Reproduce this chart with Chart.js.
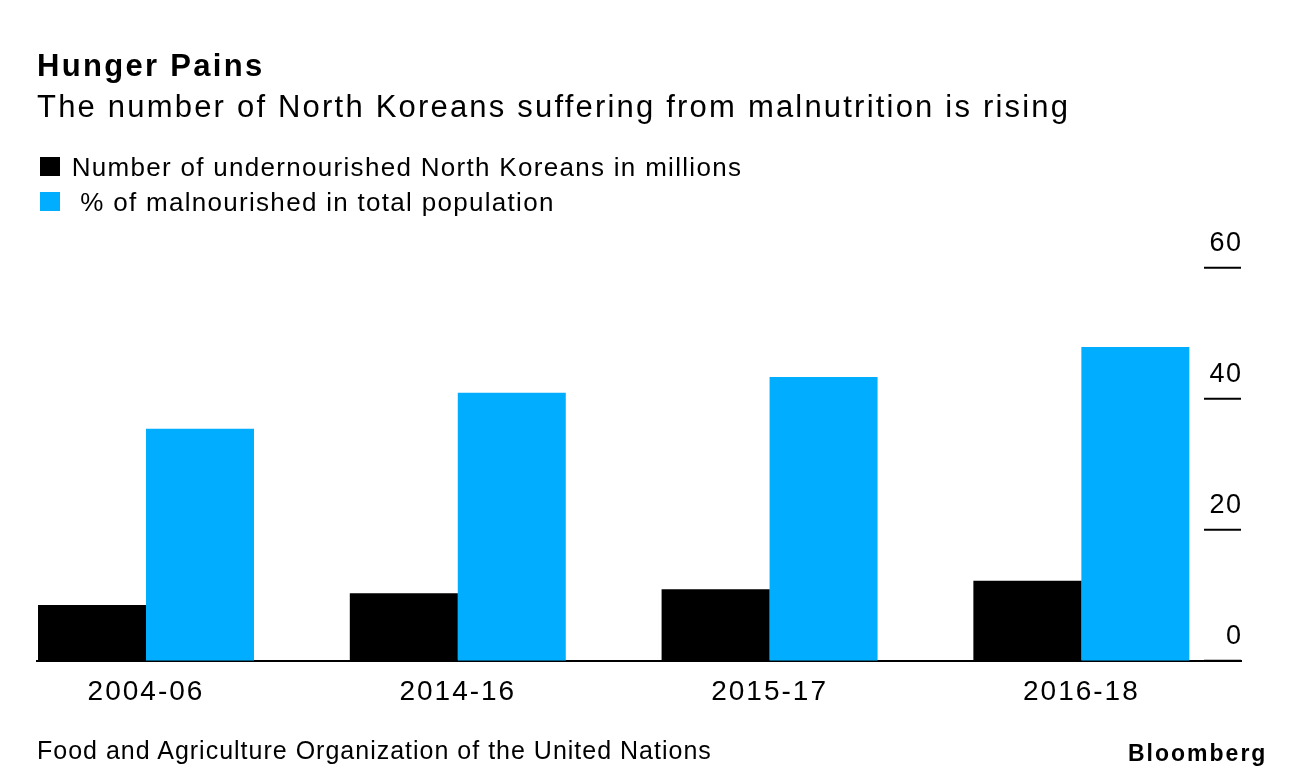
<!DOCTYPE html>
<html>
<head>
  <title>Hunger Pains</title>
  <script src="https://cdn.jsdelivr.net/npm/chart.js"></script>
  <meta name="viewport" content="width=device-width, initial-scale=1">
  <style>
    body { margin: 0; background: #fff; color: #000; font-family: "Liberation Sans", Arial, sans-serif; }
    #wrap { position: relative; width: 1296px; height: 780px; overflow: hidden; }
    canvas { position: absolute; left: 0; top: 0; }
    .txt { position: absolute; line-height: 1; white-space: pre; }
    #title { left: 37px; top: 49.5px; font-size: 31px; font-weight: bold; letter-spacing: 2.3px; }
    #subtitle { left: 37px; top: 91px; font-size: 31px; letter-spacing: 2.2px; }
    .key { position: absolute; left: 40px; width: 20px; height: 19px; }
    .keytxt { left: 71.7px; font-size: 26px; letter-spacing: 1.3px; }
    #source { left: 37px; top: 738px; font-size: 25px; letter-spacing: 1px; }
    #brand { left: 1128px; top: 742px; font-size: 23px; font-weight: bold; letter-spacing: 2px; }
  </style>
</head>
<body>
  <div id="wrap">
    <canvas id="hungerChart" width="1296" height="780"></canvas>
    <div class="txt" id="title">Hunger Pains</div>
    <div class="txt" id="subtitle">The number of North Koreans suffering from malnutrition is rising</div>
    <div id="legend"></div>
    <div class="txt" id="source">Food and Agriculture Organization of the United Nations</div>
    <div class="txt" id="brand">Bloomberg</div>
  </div>

  <script>
    const categories = ['2004-06', '2014-16', '2015-17', '2016-18'];
    const undernourished = [8.5, 10.3, 10.9, 12.2];   // millions
    const malnourishedPct = [35.4, 40.9, 43.3, 47.9]; // % of population
    const seriesNames = ['Number of undernourished North Koreans in millions', ' % of malnourished in total population'];
    const seriesColors = ['#000000', '#00adfe'];
    const yTicks = [0, 20, 40, 60];

    // bars sit on a linear x axis so the first pair can hug the left edge
    const toPoints = vals => vals.map((v, i) => ({ x: i, y: v }));

    // short tick marks + labels on the right, drawn from the y scale
    const rightAxis = {
      id: 'rightAxis',
      beforeDraw(chart) {
        chart.ctx.letterSpacing = '2px';
      },
      afterDraw(chart) {
        const { ctx, chartArea, scales: { y } } = chart;
        ctx.save();
        ctx.strokeStyle = '#000';
        ctx.fillStyle = '#000';
        ctx.lineWidth = 2;
        ctx.font = '27px "Liberation Sans", Arial, sans-serif';
        ctx.letterSpacing = '1.5px';
        ctx.textAlign = 'right';
        ctx.textBaseline = 'alphabetic';
        yTicks.forEach(v => {
          const py = y.getPixelForValue(v);
          ctx.beginPath();
          ctx.moveTo(chartArea.right - 37, py);
          ctx.lineTo(chartArea.right, py);
          ctx.stroke();
          ctx.fillText(String(v), chartArea.right + 1.5, py - 17);
        });
        ctx.restore();
      }
    };

    const ctx = document.getElementById('hungerChart').getContext('2d');
    const hungerChart = new Chart(ctx, {
      type: 'bar',
      data: {
        datasets: [
          { label: seriesNames[0], data: toPoints(undernourished), backgroundColor: seriesColors[0], borderWidth: 0 },
          { label: seriesNames[1], data: toPoints(malnourishedPct), backgroundColor: seriesColors[1], borderWidth: 0 }
        ]
      },
      options: {
        responsive: false,
        animation: false,
        layout: { padding: { left: 37, right: 55, top: 267.7, bottom: 56.5 } },
        datasets: { bar: { barPercentage: 1, categoryPercentage: 0.6927 } },
        plugins: { legend: { display: false }, tooltip: { enabled: false } },
        scales: {
          x: {
            type: 'linear',
            offset: false,
            min: -0.3496,
            max: 3.512,
            afterBuildTicks: s => { s.ticks = categories.map((c, i) => ({ value: i })); },
            grid: { display: false, drawTicks: false, offset: false },
            border: { display: true, color: '#000', width: 2 },
            ticks: {
              autoSkip: false,
              maxRotation: 0,
              padding: 14.6,
              color: '#000',
              font: { family: '"Liberation Sans", Arial, sans-serif', size: 28, lineHeight: 1.2 },
              callback: v => categories[v]
            }
          },
          y: {
            type: 'linear',
            display: false,
            min: 0,
            max: 60
          }
        }
      },
      plugins: [rightAxis]
    });

    // legend from the dataset names and colours
    const legendEl = document.getElementById('legend');
    hungerChart.data.datasets.forEach((ds, i) => {
      const sq = document.createElement('div');
      sq.className = 'key';
      sq.style.top = (156.7 + i * 35.5) + 'px';
      sq.style.background = ds.backgroundColor;
      legendEl.appendChild(sq);
      const t = document.createElement('div');
      t.className = 'txt keytxt';
      t.style.top = (153.7 + i * 35) + 'px';
      t.textContent = ds.label;
      legendEl.appendChild(t);
    });
  </script>
</body>
</html>
